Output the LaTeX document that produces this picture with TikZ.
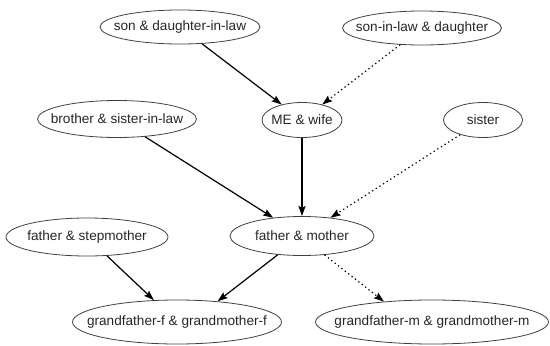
\documentclass[tikz,border=0pt]{standalone}
\usepackage{fontspec}
\setmainfont{Liberation Sans}
\usetikzlibrary{shapes.geometric,arrows.meta}
% centred label that does not widen the ellipse around it
\newcommand\famtext[1]{\makebox[0pt]{#1}}
\begin{document}
\begin{tikzpicture}[x=1pt,y=-1pt,
  person/.style={ellipse,draw=black!75,line width=0.8pt,inner sep=0pt,
    text=black!85,font=\fontsize{13.6}{16}\selectfont},
  tie/.style={line width=1.2pt,-{Stealth[length=10pt,width=7pt,inset=1.5pt]}},
  loose/.style={tie,dash pattern=on 1.3pt off 3pt}]
\useasboundingbox (0,0) rectangle (550,346);
% family members
\node[person,minimum width=160pt,minimum height=34pt] (sdl)  at (180,27)  {\famtext{son \& daughter-in-law}};
\node[person,minimum width=159pt,minimum height=34pt] (sld)  at (422,28)  {\famtext{son-in-law \& daughter}};
\node[person,minimum width=80pt, minimum height=35pt] (me)   at (302,120) {\famtext{ME \& wife}};
\node[person,minimum width=159pt,minimum height=37pt] (bro)  at (117,119) {\famtext{brother \& sister-in-law}};
\node[person,minimum width=79pt, minimum height=35pt] (sis)  at (483,120) {\famtext{sister}};
\node[person,minimum width=162pt,minimum height=38pt] (fsm)  at (87,237)  {\famtext{father \& stepmother}};
\node[person,minimum width=144pt,minimum height=39pt] (fm)   at (302,236) {\famtext{father \& mother}};
\node[person,minimum width=209pt,minimum height=44pt] (gff)  at (177,322) {\famtext{grandfather-f \& grandmother-f}};
\node[person,minimum width=233pt,minimum height=44pt] (gfm)  at (432,322) {\famtext{grandfather-m \& grandmother-m}};
% lines of descent
\draw[tie]   (sdl) -- (me);
\draw[loose] (sld) -- (me);
\draw[tie]   (me) -- (fm);
\draw[tie]   (bro) -- (fm);
\draw[loose] (sis) -- (fm);
\draw[tie]   (fsm) -- (gff);
\draw[tie]   (fm) -- (gff.27);
\draw[loose] (fm.-40) -- (gfm.157);
\end{tikzpicture}
\end{document}
